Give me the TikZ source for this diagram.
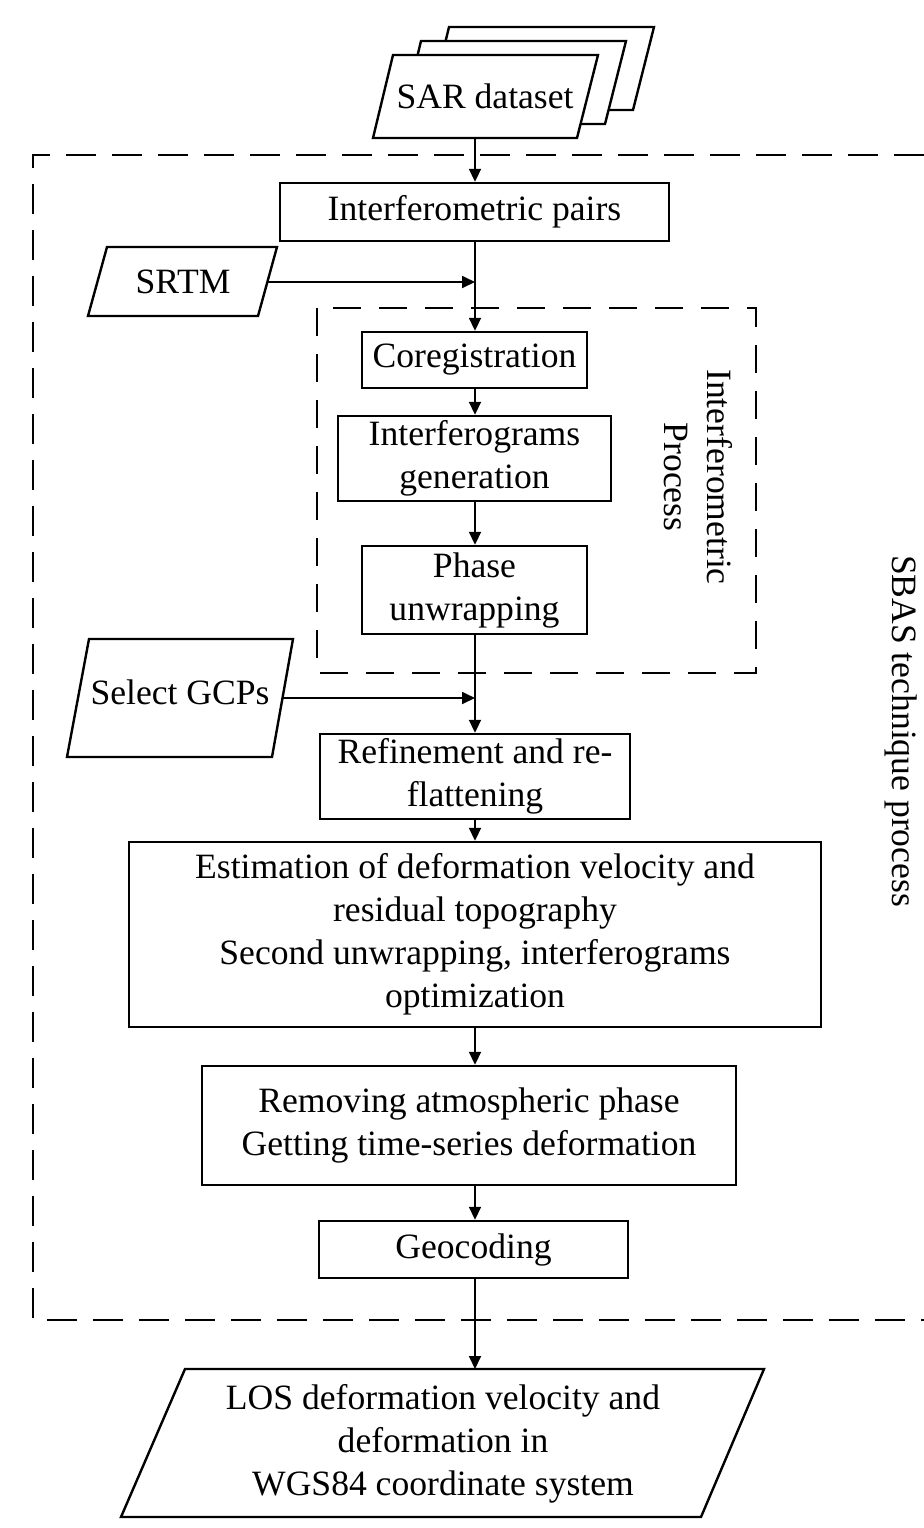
\documentclass[tikz,border=0pt]{standalone}
\usepackage{fontspec}
\setmainfont{Liberation Serif}
\usetikzlibrary{arrows.meta}
\newcommand{\ftx}{\fontsize{17.8}{21.5}\selectfont}
\begin{document}
\begin{tikzpicture}[x=0.5pt,y=-0.5pt,
  box/.style={draw,line width=1.2pt,rectangle,inner sep=0pt,align=center,font=\ftx},
  txt/.style={inner sep=0pt,align=center,font=\ftx},
  para/.style={draw,line width=1.2pt,fill=white,line join=miter},
  arr/.style={line width=0.9pt,-{Triangle[length=6.5pt,width=6pt]}},
  frame/.style={line width=1.2pt,dash pattern=on 15pt off 8pt}]
\useasboundingbox (0,0) rectangle (924,1528);

% outer SBAS frame (right side beyond the picture)
\draw[frame] (924,155) -- (33,155) -- (33,1320) -- (924,1320);
% inner interferometric frame
\draw[frame,dash pattern=on 14pt off 9pt] (317,308) rectangle (756,673);

% SAR dataset stack
\draw[para] (429,110) -- (633,110) -- (654,27) -- (449,27) -- cycle;
\draw[para] (401,124) -- (605,124) -- (626,41) -- (421,41) -- cycle;
\draw[para] (373,138) -- (577,138) -- (598,55) -- (393,55) -- cycle;
\node[txt] (sar) at (485,96) {SAR dataset};
\coordinate (sarb) at (475,138);

% SRTM
\draw[para] (88,316) -- (258,316) -- (277,247) -- (107,247) -- cycle;
\node[txt] (srtm) at (183,281.5) {SRTM};
\coordinate (srtmr) at (267.5,282);

% Select GCPs
\draw[para] (67,757) -- (272,757) -- (293,639) -- (89,639) -- cycle;
\node[txt] (gcp) at (180,692) {Select GCPs};
\coordinate (gcpr) at (282,698);

% LOS output
\draw[para] (121,1517) -- (701,1517) -- (764,1369) -- (185,1369) -- cycle;
\node[txt] (los) at (443,1444) {LOS deformation velocity and\\deformation in\\WGS84 coordinate system};
\coordinate (lost) at (475,1369);

% boxes
\node[box,minimum width=194.5pt,minimum height=29pt] (pairs) at (474.5,212) {Interferometric pairs};
\node[box,minimum width=112.5pt,minimum height=28pt] (coreg) at (474.5,360) {Coregistration};
\node[box,minimum width=136.5pt,minimum height=42.5pt] (interf) at (474.5,458.5) {Interferograms\\generation};
\node[box,minimum width=112.5pt,minimum height=44pt] (phase) at (474.5,590) {Phase\\unwrapping};
\node[box,minimum width=155pt,minimum height=42.5pt] (refine) at (475,776.5) {Refinement and re-\\flattening};
\node[box,minimum width=346pt,minimum height=92.5pt] (est) at (475,934.5) {Estimation of deformation velocity and\\residual topography\\Second unwrapping, interferograms\\optimization};
\node[box,minimum width=267pt,minimum height=59.5pt] (rem) at (469,1125.5) {Removing atmospheric phase\\Getting time-series deformation};
\node[box,minimum width=154.5pt,minimum height=28.5pt] (geo) at (473.5,1249.5) {Geocoding};

% rotated labels
\node[txt,rotate=-90] (iplabel) at (698.5,477) {Interferometric\\Process};
\node[txt,rotate=-90] (sbas) at (901,731) {SBAS technique process};

\coordinate (col) at (475,0);

% connectors
\draw[arr] (sarb) -- (col |- pairs.north);
\draw[arr] (col |- pairs.south) -- (col |- coreg.north);
\draw[arr] (srtmr) -- (srtmr -| col);
\draw[arr] (col |- coreg.south) -- (col |- interf.north);
\draw[arr] (col |- interf.south) -- (col |- phase.north);
\draw[arr] (col |- phase.south) -- (col |- refine.north);
\draw[arr] (gcpr) -- (gcpr -| col);
\draw[arr] (col |- refine.south) -- (col |- est.north);
\draw[arr] (col |- est.south) -- (col |- rem.north);
\draw[arr] (col |- rem.south) -- (col |- geo.north);
\draw[arr] (col |- geo.south) -- (lost);
\end{tikzpicture}
\end{document}
